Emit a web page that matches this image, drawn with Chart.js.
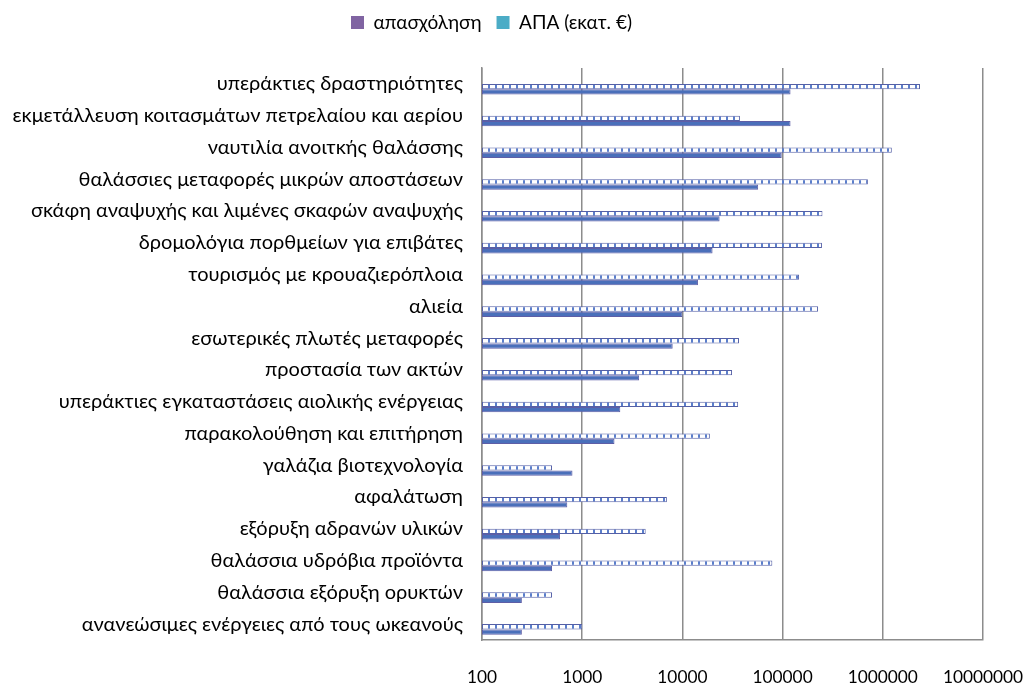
<!DOCTYPE html>
<html><head><meta charset="utf-8">
<script src="https://cdn.jsdelivr.net/npm/chart.js@4/dist/chart.umd.min.js"></script>
<style>html,body{margin:0;padding:0;background:#fff;} #wrap{width:1027px;height:688px;position:relative;}</style>
</head><body><div id="wrap"><canvas id="c"></canvas></div>
<script>
const categories = [
  'υπεράκτιες δραστηριότητες',
  'εκμετάλλευση κοιτασμάτων πετρελαίου και αερίου',
  'ναυτιλία ανοιτκής θαλάσσης',
  'θαλάσσιες μεταφορές μικρών αποστάσεων',
  'σκάφη αναψυχής και λιμένες σκαφών αναψυχής',
  'δρομολόγια πορθμείων για επιβάτες',
  'τουρισμός με κρουαζιερόπλοια',
  'αλιεία',
  'εσωτερικές πλωτές μεταφορές',
  'προστασία των ακτών',
  'υπεράκτιες εγκαταστάσεις αιολικής ενέργειας',
  'παρακολούθηση και επιτήρηση',
  'γαλάζια βιοτεχνολογία',
  'αφαλάτωση',
  'εξόρυξη αδρανών υλικών',
  'θαλάσσια υδρόβια προϊόντα',
  'θαλάσσια εξόρυξη ορυκτών',
  'ανανεώσιμες ενέργειες από τους ωκεανούς'
];
const employment = [120000, 120000, 98000, 57000, 23500, 20000, 14300, 10000, 8000, 3700, 2400, 2100, 800, 710, 600, 500, 250, 250];
const gva = [2350000, 37500, 1230000, 710000, 250000, 247000, 146000, 226000, 36700, 31300, 36000, 18800, 500, 7000, 4300, 79000, 500, 1000];
const xTicks = [100, 1000, 10000, 100000, 1000000, 10000000];
const seriesNames = ['απασχόληση', 'ΑΠΑ (εκατ. €)'];
const legendColors = ['#8064a2', '#4bacc6'];

const FONT = 'Lato, "Liberation Sans", sans-serif';
const ctx = document.getElementById('c').getContext('2d');

function hatch() {
  const p = document.createElement('canvas');
  p.width = 7; p.height = 1;
  const g = p.getContext('2d');
  g.fillStyle = '#ffffff'; g.fillRect(0, 0, 7, 1);
  g.fillStyle = '#5a7ecb'; g.fillRect(5, 0, 2, 1);
  return ctx.createPattern(p, 'repeat');
}
const spacer = categories.map(() => null);

new Chart(ctx, {
  type: 'bar',
  data: {
    labels: categories,
    datasets: [
      { label: '_s1', data: spacer },
      { label: '_s2', data: spacer },
      { label: seriesNames[1], data: gva, backgroundColor: hatch(), borderColor: '#5560a6', borderWidth: 1, borderSkipped: false },
      { label: seriesNames[0], data: employment, backgroundColor: '#4a6fba', borderColor: '#5e5ea6', borderWidth: 1, borderSkipped: false }
    ]
  },
  options: {
    indexAxis: 'y',
    responsive: true,
    maintainAspectRatio: false,
    animation: false,
    datasets: { bar: { categoryPercentage: 0.667, barPercentage: 1 } },
    layout: { padding: { top: -2, left: 0, right: 44, bottom: 0 } },
    plugins: {
      tooltip: { enabled: false },
      legend: {
        position: 'top',
        labels: {
          boxWidth: 13, boxHeight: 13, padding: 15, color: '#000',
          font: { family: FONT, size: 19 },
          generateLabels: () => seriesNames.map((t, i) => ({
            text: t, fillStyle: legendColors[i], strokeStyle: legendColors[i], lineWidth: 0,
            hidden: false, datasetIndex: i === 0 ? 3 : 2, fontColor: '#000'
          }))
        }
      },
      subtitle: { display: true, text: '', weight: 500, position: 'top', font: { size: 1, lineHeight: 1 }, padding: { top: 25, bottom: 0 } }
    },
    scales: {
      x: {
        type: 'logarithmic', position: 'bottom', min: 100, max: 10000000,
        afterBuildTicks: (s) => { s.ticks = xTicks.map(v => ({ value: v })); },
        afterFit: (s) => { s.height = 48; s.paddingLeft = 0; s.paddingRight = 0; },
        ticks: { callback: (v) => String(v), color: '#000', font: { family: FONT, size: 17.3 }, padding: 27, autoSkip: false, maxRotation: 0 },
        grid: { color: '#8c8c8c', lineWidth: 1.5, drawTicks: false },
        border: { color: '#8c8c8c', width: 1.5 }
      },
      y: {
        type: 'category',
        afterFit: (s) => { s.width = 482; s.paddingTop = 0; s.paddingBottom = 0; },
        ticks: { color: '#000', font: { family: FONT, size: 20 }, padding: 19, autoSkip: false },
        grid: { display: false, drawTicks: false },
        border: { color: '#8c8c8c', width: 1.5 }
      }
    }
  }
});
</script>
</body></html>
